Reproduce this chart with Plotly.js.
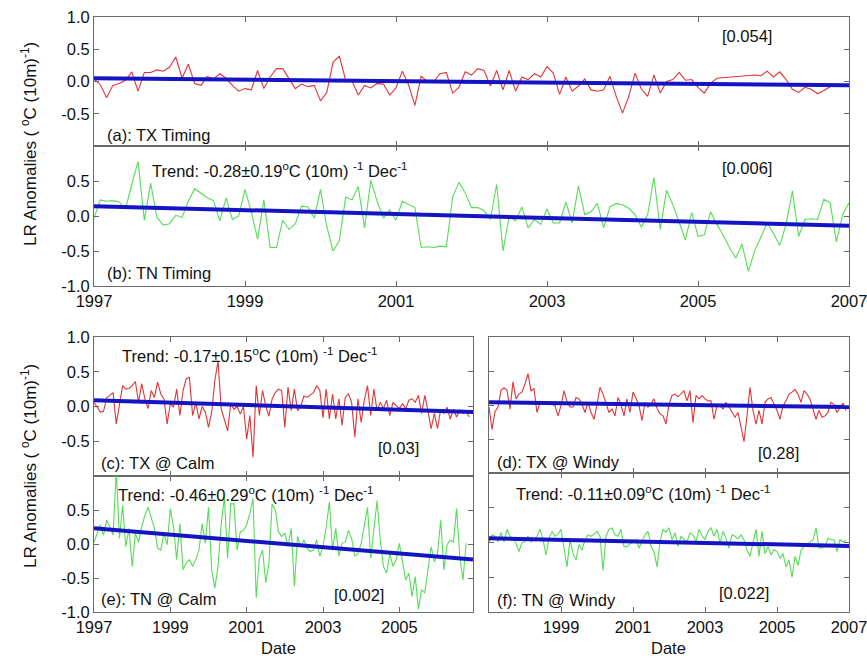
<!DOCTYPE html>
<html>
<head>
<meta charset="utf-8">
<script src="https://cdn.plot.ly/plotly-3.0.1.min.js"></script>
<style>html,body{margin:0;padding:0;background:#fff;}#chart{width:867px;height:659px;}</style>
</head>
<body>
<div id="chart"></div>
<script>
// ---- data (monthly anomalies, starting Jan 1997) ----
const startYear = 1997;
const txTiming = [0.04,-0.05,-0.25,-0.06,-0.03,0.02,0.15,-0.15,0.14,0.14,
 0.18,0.16,0.22,0.38,0.05,0.27,-0.03,-0.06,0.08,0.04,
 0.12,0.05,-0.06,-0.15,-0.11,-0.13,0.17,-0.11,0.07,0.2,
 0.2,0.04,-0.11,-0.04,-0.08,-0.06,-0.3,-0.17,0.3,0.39,
 0.02,0.01,-0.21,-0.06,-0.1,-0.03,-0.04,-0.21,-0.1,0.16,
 -0.05,-0.37,0.08,0.0,0.0,0.12,0.14,-0.18,-0.09,0.15,
 0.1,0.2,0.17,-0.07,0.17,-0.13,0.17,-0.15,0.07,0.03,
 0.12,0.07,0.23,0.13,-0.2,0.07,-0.15,-0.07,0.04,-0.13,
 -0.15,-0.13,0.08,-0.23,-0.49,-0.23,0.13,-0.12,-0.23,0.1,
 -0.18,0.0,0.03,0.14,0.02,0.03,-0.09,-0.18,-0.03,0.05,
 null,null,null,null,null,0.1,0.09,0.16,0.07,0.15,
 0.03,-0.12,-0.17,-0.09,-0.12,-0.19,-0.14,-0.08];
const tnTiming = [-0.03,0.23,0.21,0.22,0.2,0.1,0.45,0.78,-0.06,0.47,
 -0.02,-0.13,-0.11,0.01,-0.02,0.21,0.39,0.33,0.26,0.22,
 -0.07,0.26,-0.05,0.0,0.38,0.06,-0.33,0.23,-0.45,-0.45,
 -0.06,-0.19,-0.11,0.14,0.13,-0.03,0.38,-0.15,-0.5,-0.35,
 0.27,0.23,0.42,-0.17,0.51,0.21,-0.03,0.09,-0.06,0.21,
 0.16,0.12,-0.45,-0.44,-0.45,-0.43,-0.44,0.27,0.48,0.33,
 0.12,0.12,0.08,-0.05,0.45,-0.5,0.0,-0.07,0.13,-0.17,
 -0.05,-0.12,0.1,-0.1,-0.1,0.2,-0.1,0.43,0.02,0.06,
 0.18,-0.17,0.13,0.18,0.16,0.11,0.02,-0.16,0.02,0.55,
 -0.19,0.37,0.16,-0.1,-0.34,0.05,-0.29,-0.27,0.06,-0.12,
 -0.27,-0.45,-0.6,-0.4,-0.79,-0.5,-0.29,-0.1,-0.25,-0.42,
 -0.12,0.36,-0.29,-0.05,-0.04,-0.05,0.24,0.19,-0.37,0.02,0.19];
const txCalm = [0.06,-0.02,-0.08,-0.07,0.13,0.16,0.2,-0.25,0.06,0.3,
 0.25,0.26,0.3,0.36,0.06,0.33,0.11,-0.03,0.23,0.13,
 0.35,0.18,0.11,-0.25,0.04,-0.01,0.25,-0.13,0.23,0.4,
 0.42,-0.13,0.06,-0.18,0.0,-0.08,-0.3,-0.08,0.38,0.65,
 -0.03,-0.18,-0.35,0.04,-0.04,0.0,-0.11,0.0,-0.47,-0.13,
 -0.73,0.3,-0.13,0.23,0.01,-0.14,0.11,0.2,0.25,0.23,
 -0.3,0.28,-0.06,0.25,-0.06,0.0,0.15,0.13,0.16,0.2,
 0.3,0.23,-0.16,0.25,-0.18,0.18,-0.18,0.11,-0.27,0.13,
 0.18,0.06,-0.44,0.11,-0.23,0.09,0.3,-0.13,0.25,-0.06,
 0.06,-0.03,0.09,-0.13,0.06,0.01,-0.03,0.04,-0.03,0.09,
 0.11,0.06,0.16,-0.1,0.16,-0.06,-0.32,-0.1,-0.32,-0.04,
 -0.1,-0.01,-0.18,-0.04,-0.15,-0.05,-0.1,-0.08,-0.15];
const txWindy = [-0.03,-0.36,-0.10,-0.03,0.22,0.25,0.22,-0.06,0.34,0.09,
 0.16,0.19,0.31,0.46,0.21,0.24,-0.11,0.04,0.01,0.03,
 0.01,0.01,-0.01,-0.16,-0.01,0.21,0.05,-0.03,-0.03,0.11,
 0.09,0.01,-0.11,0.04,-0.11,-0.21,0.01,0.26,0.16,0.04,
 -0.11,-0.06,-0.16,0.11,0.0,-0.16,0.09,-0.11,0.19,0.10,
 -0.01,-0.23,0.04,-0.03,0.01,0.09,-0.05,-0.13,-0.16,-0.28,
 0.01,0.14,0.16,0.12,0.16,0.21,0.06,0.21,-0.26,0.14,
 0.09,0.14,0.09,0.06,0.06,-0.21,-0.01,-0.01,-0.06,0.04,
 -0.03,-0.10,-0.18,-0.11,-0.31,-0.54,-0.16,0.26,-0.08,-0.28,
 -0.08,-0.28,0.04,0.09,0.11,0.01,-0.08,-0.21,-0.01,0.06,
 0.16,0.19,0.23,0.16,0.04,0.21,0.16,0.09,-0.06,-0.21,
 -0.08,-0.18,-0.16,-0.11,0.04,0.01,-0.11,-0.03,0.03,-0.08];
const tnCalm = [0.03,0.16,0.28,0.13,0.35,0.25,0.13,1.1,0.08,0.57,
 -0.04,0.23,-0.33,0.16,0.03,0.25,0.42,0.54,0.4,0.23,-0.06,
 -0.09,0.16,-0.01,0.52,0.25,-0.23,0.3,-0.38,-0.28,-0.23,
 -0.33,-0.23,-0.09,0.3,0.01,0.54,-0.38,-0.65,-0.33,0.3,
 0.69,-0.21,0.59,0.59,-0.09,0.18,0.2,0.28,0.45,0.67,
 -0.79,-0.21,-0.09,-0.57,-0.28,0.59,0.5,0.18,0.11,0.16,
 -0.04,0.23,-0.62,0.11,-0.04,0.06,-0.06,-0.11,-0.09,0.06,
 -0.18,-0.04,0.25,0.62,-0.09,0.23,-0.18,0.01,0.03,0.2,
 0.08,-0.18,-0.14,0.01,0.3,0.54,-0.21,0.25,0.64,0.06,-0.33,-0.43,
 -0.14,-0.33,-0.23,0.01,-0.25,-0.53,-0.43,-0.77,-0.48,-0.96,-0.67,
 -0.72,-0.38,-0.04,-0.26,-0.14,0.35,-0.38,-0.01,0.06,0.03,
 0.52,-0.18,-0.53,0.01];
const tnWindy = [0.01,0.11,0.09,0.01,0.14,0.01,0.19,0.09,0.06,-0.01,-0.13,0.0,
 0.01,0.09,0.01,0.04,0.09,0.19,0.04,-0.18,0.06,0.16,0.09,0.12,
 0.19,-0.06,-0.35,0.04,-0.16,-0.25,-0.03,-0.11,0.04,0.11,0.09,0.12,
 0.16,0.09,-0.4,0.09,0.19,0.21,0.11,0.09,0.19,-0.06,-0.06,-0.02,
 0.01,0.04,-0.08,0.01,0.11,0.16,-0.06,-0.13,-0.35,0.01,0.19,0.15,
 0.21,0.04,0.14,-0.06,0.09,0.04,0.01,0.14,0.11,0.01,0.19,0.1,
 0.04,0.16,0.21,0.09,0.19,-0.01,0.16,0.06,-0.08,0.11,0.09,0.05,
 0.11,0.04,-0.11,-0.2,0.01,0.19,-0.2,0.16,-0.16,-0.06,-0.18,-0.1,
 -0.13,-0.23,-0.16,-0.35,-0.25,-0.5,-0.2,-0.33,-0.11,-0.06,-0.03,0.0,
 0.04,0.21,-0.08,-0.08,-0.06,0.06,0.04,0.04,-0.13,0.04,0.01,0.03];

// linear trends: value at start (1997) and slope per decade
const trendStart = [0.05, 0.14, 0.09, 0.04, 0.23, 0.06];
const trendSlope = [-0.11, -0.28, -0.17, -0.07, -0.46, -0.11];
const trendEnd   = [2007, 2007, 2006.93, 2007, 2006.93, 2007];

const panelLabels = ["(a): TX Timing","(b): TN Timing","(c): TX @ Calm","(d): TX @ Windy","(e): TN @ Calm","(f): TN @ Windy"];
const pValues = ["[0.054]","[0.006]","[0.03]","[0.28]","[0.002]","[0.022]"];
const trendTexts = [null,
 "Trend: -0.28\u00b10.19<sup>o</sup>C (10m) <sup>-1</sup> Dec<sup>-1</sup>",
 "Trend: -0.17\u00b10.15<sup>o</sup>C (10m) <sup>-1</sup> Dec<sup>-1</sup>",
 null,
 "Trend: -0.46\u00b10.29<sup>o</sup>C (10m) <sup>-1</sup> Dec<sup>-1</sup>",
 "Trend: -0.11\u00b10.09<sup>o</sup>C (10m) <sup>-1</sup> Dec<sup>-1</sup>"];
const yTitle = "LR Anomalies ( <sup>o</sup>C (10m)<sup>-1</sup>)";
const xTitle = "Date";
const yearTicks = [1997,1999,2001,2003,2005,2007];

// ---- layout geometry (pixels) ----
const W = 867, H = 659;
const series = [txTiming, tnTiming, txCalm, txWindy, tnCalm, tnWindy];
const colors = ["#e03535","#55dd55","#e03535","#e03535","#55dd55","#55dd55"];
const boxes = [ // x0,x1,y0,y1
 [94,849,17,146],[94,849,146,286],
 [94,473,337,476],[489,849,337,473],
 [94,473,476,612],[489,849,473,612]];
const xRanges = [[1997,2007],[1997,2007],[1997,2006.93],[1997,2007],[1997,2006.93],[1997,2007]];
const showX = [[],yearTicks,[],[],[1997,1999,2001,2003,2005],[1999,2001,2003,2005,2007]];
const showY = [[1,0.5,0,-0.5],[0.5,0,-0.5,-1],[1,0.5,0,-0.5],[],[0.5,0,-0.5,-1],[]];

const tickFont = {family:"Liberation Sans, Arial, sans-serif", size:16.5, color:"#111"};
const font = {family:"Liberation Sans, Arial, sans-serif", size:16.5, color:"#111"};
const titleFont = {family:"Liberation Sans, Arial, sans-serif", size:17, color:"#111"};
const frame = "#6a6a6a";
const fmt = v => v.toFixed(1);

const traces = [];
const layout = {
  width:W, height:H, margin:{l:0,r:0,t:0,b:0},
  paper_bgcolor:"#fff", plot_bgcolor:"#fff",
  showlegend:false, font:font, annotations:[]
};

for (let k=0;k<6;k++){
  const n = k+1, xs = n===1?"x":"x"+n, ys = n===1?"y":"y"+n;
  const xk = n===1?"xaxis":"xaxis"+n, yk = n===1?"yaxis":"yaxis"+n;
  const b = boxes[k];
  const vals = series[k];
  const xv = vals.map((_,i)=>startYear + i/12);
  traces.push({x:xv, y:vals, xaxis:xs, yaxis:ys, type:"scatter", mode:"lines",
    connectgaps:true, line:{color:colors[k], width:1.1}, hoverinfo:"skip"});
  const tx = [startYear, trendEnd[k]];
  const ty = tx.map(t => trendStart[k] + trendSlope[k]*(t-startYear)/10);
  traces.push({x:tx, y:ty, xaxis:xs, yaxis:ys, type:"scatter", mode:"lines",
    line:{color:"#1414c4", width:4}, hoverinfo:"skip"});

  const xt = showX[k];
  layout[xk] = {domain:[b[0]/W, b[1]/W], anchor:ys, range:xRanges[k],
    tickvals:[1997,1999,2001,2003,2005,2007],
    ticktext:[1997,1999,2001,2003,2005,2007].map(v=> xt.includes(v)? String(v):""),
    ticklabeloverflow:"allow",
    ticks:"inside", ticklen:5, tickcolor:frame, showline:true, linecolor:frame, linewidth:1,
    mirror:"ticks", showgrid:false, zeroline:false, tickfont:tickFont, fixedrange:true};
  const yt = showY[k];
  layout[yk] = {domain:[1-b[3]/H, 1-b[2]/H], anchor:xs, range:[-1,1],
    tickvals:[-1,-0.5,0,0.5,1],
    ticktext:[-1,-0.5,0,0.5,1].map(v=> yt.includes(v)? fmt(v):""),
    ticklabeloverflow:"allow",
    ticks:"inside", ticklen:5, tickcolor:frame, showline:true, linecolor:frame, linewidth:1,
    mirror:"ticks", showgrid:false, zeroline:false, tickfont:tickFont, fixedrange:true};
}

// annotation positions (pixels)
const labelPos = [[105,135],[105,273],[99,463],[495,462],[99,599],[495,600]];
const pPos = [[747,36],[747,168],[398,448],[778,453],[359,595],[744,593]];
const trendPos = [null,[150,170],[120,355],null,[116,494],[514,493]];
const A = (x,y,text,extra)=>Object.assign({xref:"paper",yref:"paper",x:x/W,y:1-y/H,text:text,
  showarrow:false,font:font,xanchor:"left",yanchor:"middle"},extra||{});
for (let k=0;k<6;k++){
  layout.annotations.push(A(labelPos[k][0],labelPos[k][1],panelLabels[k]));
  layout.annotations.push(A(pPos[k][0],pPos[k][1],pValues[k],{xanchor:"center"}));
  if (trendTexts[k]) layout.annotations.push(A(trendPos[k][0],trendPos[k][1],trendTexts[k]));
}
layout.annotations.push(A(29,144,yTitle,{textangle:-90,xanchor:"center",font:titleFont}));
layout.annotations.push(A(29,466,yTitle,{textangle:-90,xanchor:"center",font:titleFont}));
layout.annotations.push(A(278,648,xTitle,{xanchor:"center"}));
layout.annotations.push(A(668,648,xTitle,{xanchor:"center"}));

Plotly.newPlot("chart", traces, layout, {displayModeBar:false, staticPlot:true});
</script>
</body>
</html>
